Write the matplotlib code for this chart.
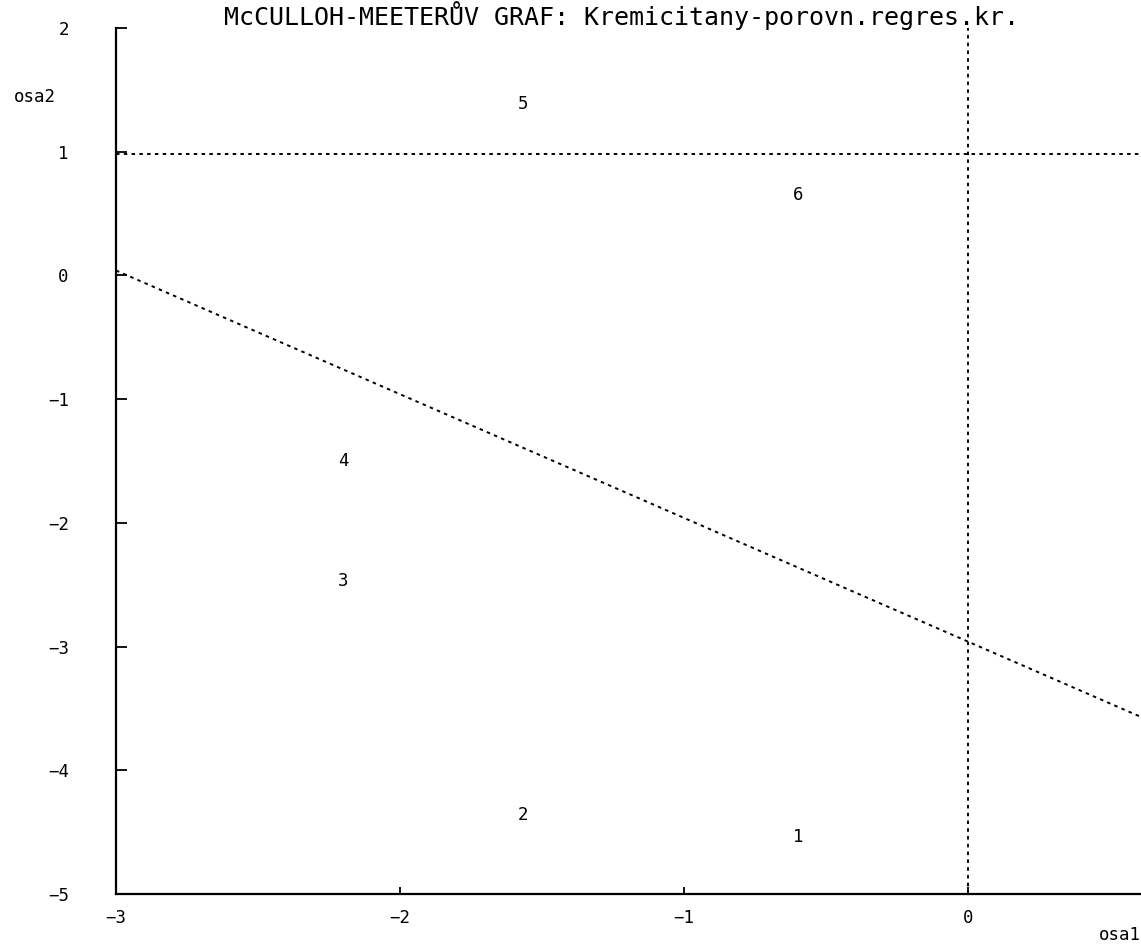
import numpy as np
import matplotlib.pyplot as plt

# McCulloh-Meeter plot data
pt_labels = ['1', '2', '3', '4', '5', '6']
osa1 = [-0.599, -1.567, -2.201, -2.201, -1.567, -0.599]
osa2 = [-4.543, -4.364, -2.470, -1.498, 1.385, 0.648]

# regression line osa2 = a + b*osa1, reference levels
reg_a = -2.96
reg_b = -1.0
h_level = 0.98
v_level = 0.0

xlim = (-3, 0.609)
ylim = (-5, 2)
xticks = [-3, -2, -1, 0]
yticks = [-5, -4, -3, -2, -1, 0, 1, 2]

plt.rcParams['font.family'] = 'DejaVu Sans Mono'

fig = plt.figure(figsize=(11.41, 9.44), dpi=100)
ax = fig.add_axes([116 / 1141, 50 / 944, 1 - 116 / 1141, (894 - 28) / 944])

dot = (0, (1.8, 2.2))
xx = np.array(xlim)
ax.plot(xx, reg_a + reg_b * xx, color='black', lw=1.4, ls=dot)
ax.axhline(h_level, color='black', lw=1.4, ls=dot)
ax.axvline(v_level, color='black', lw=1.4, ls=dot)

for lab, x, y in zip(pt_labels, osa1, osa2):
    ax.text(x, y, lab, ha='center', va='center', fontsize=12.5)

ax.set_xlim(*xlim)
ax.set_ylim(*ylim)
ax.set_xticks(xticks)
ax.set_yticks(yticks)
ax.set_xticklabels([str(t).replace('-', '\u2212') for t in xticks])
ax.set_yticklabels([str(t).replace('-', '\u2212') for t in yticks])
ax.tick_params(axis='both', direction='in', width=1.3, labelsize=12.5)
ax.tick_params(axis='y', length=8, pad=34)
ax.tick_params(axis='x', length=5, pad=11)
for s in ['top', 'right']:
    ax.spines[s].set_visible(False)
for s in ['left', 'bottom']:
    ax.spines[s].set_linewidth(1.6)

fig.text(35 / 1141, 1 - 97 / 944, 'osa2', ha='center', va='center', fontsize=12.5)
fig.text(1141 / 1141, 1 - 935 / 944, 'osa1', ha='right', va='center', fontsize=12.5)
fig.text(621 / 1141, 1 - 25 / 944, 'McCULLOH-MEETERŮV GRAF: Kremicitany-porovn.regres.kr.',
         ha='center', va='baseline', fontsize=18)

fig.savefig('out.png', dpi=100)
